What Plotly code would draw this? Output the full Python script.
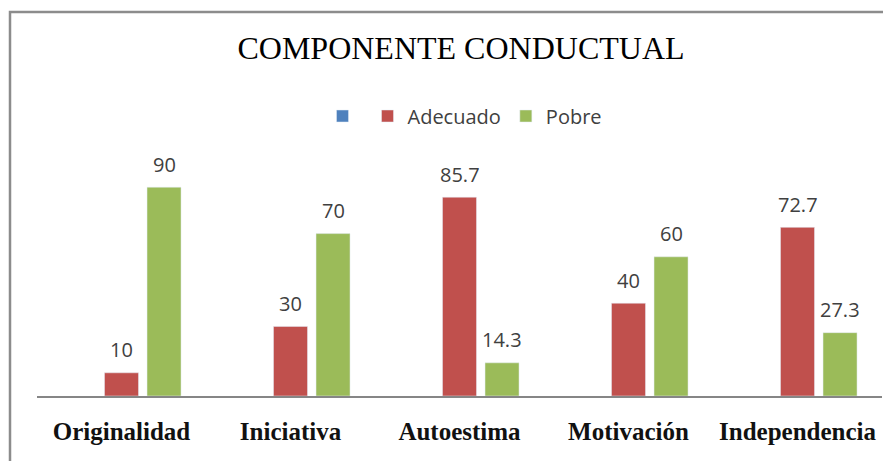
import plotly.graph_objects as go

categories = ["Originalidad", "Iniciativa", "Autoestima", "Motivación", "Independencia"]
serie_vacia = [None, None, None, None, None]
adecuado = [10, 30, 85.7, 40, 72.7]
pobre = [90, 70, 14.3, 60, 27.3]

W, H = 891, 461
OFF = 8  # page offset of the figure inside the browser window
L, R, T, B = 37 - OFF, W - 882 + OFF, 164 - OFF, H - 396 + OFF
pw, ph = W - L - R, H - T - B

BARGAP = 0.245
GROUPGAP = 0.2
slot = (1 - BARGAP) / 3

fig = go.Figure()
fig.add_trace(go.Bar(x=categories, y=serie_vacia, name="", marker_color="#4F81BD"))
fig.add_trace(go.Bar(x=categories, y=adecuado, name="Adecuado", marker_color="#C0504D"))
fig.add_trace(go.Bar(x=categories, y=pobre, name="Pobre", marker_color="#9BBB59"))

label_font = dict(family="Open Sans", size=20, color="#404040")
annotations = []
for i, v in enumerate(adecuado):
    annotations.append(dict(x=i, y=v, xref="x", yref="y", text=f"{v:g}", showarrow=False,
                            yanchor="middle", yshift=23, font=label_font))
for i, v in enumerate(pobre):
    annotations.append(dict(x=i + slot, y=v, xref="x", yref="y", text=f"{v:g}", showarrow=False,
                            yanchor="middle", yshift=23, font=label_font))

# helpers: screen pixel -> paper coordinates
def px_x(p):
    return (p - OFF - L) / pw

def px_y(p):
    return (H - B - (p - OFF)) / ph

fig.update_layout(
    width=W, height=H,
    margin=dict(l=L, r=R, t=T, b=B),
    paper_bgcolor="white", plot_bgcolor="white",
    barmode="group", bargap=BARGAP, bargroupgap=GROUPGAP,
    title=dict(text="COMPONENTE CONDUCTUAL", x=(461 - OFF) / W, xanchor="center",
               y=1 - (48 - OFF) / H, yanchor="middle", yref="container",
               font=dict(family="Liberation Serif", size=32, color="#000000")),
    legend=dict(orientation="h", x=px_x(465), xanchor="center", y=px_y(116), yanchor="middle",
                font=dict(family="Open Sans", size=20, color="#404040"),
                bgcolor="rgba(0,0,0,0)"),
    xaxis=dict(showline=True, linecolor="#868686", linewidth=1.5, showgrid=False,
               ticks="", ticklabelstandoff=12,
               tickfont=dict(family="Liberation Serif", size=25, color="#111111", weight="bold")),
    yaxis=dict(visible=False, range=[0, 100], showgrid=False),
    annotations=annotations,
    shapes=[dict(type="rect", xref="paper", yref="paper",
                 x0=px_x(10), x1=px_x(W + 30), y0=px_y(H + 30), y1=px_y(12),
                 line=dict(color="#8C8C8C", width=2.5), layer="below")],
)

fig.write_html("out.html")
